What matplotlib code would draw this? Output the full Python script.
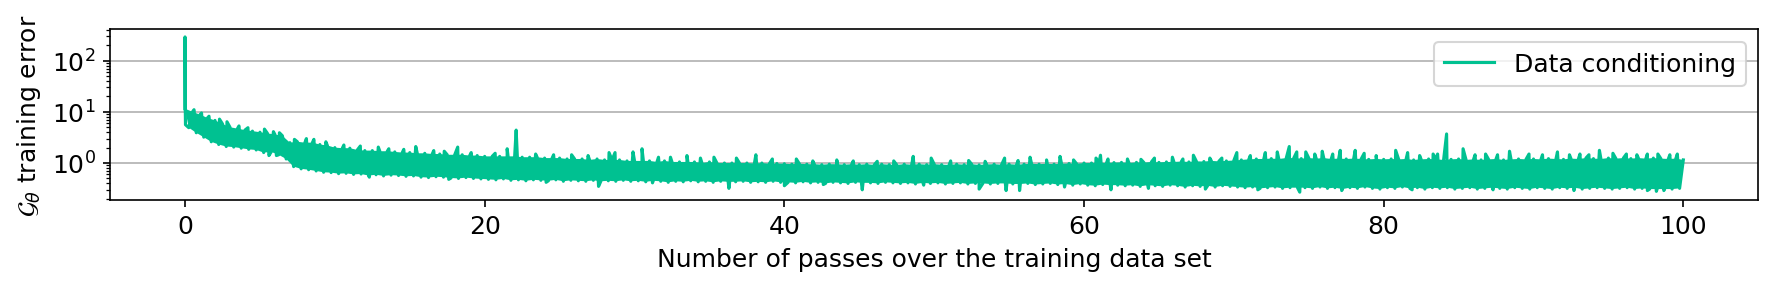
import numpy as np
import matplotlib.pyplot as plt

plt.rcParams['font.size'] = 12

line_color = '#00c191'

# first iterations: sharp drop from the initial error
start_epochs = [0.0, 0.004, 0.008, 0.015, 0.03]
start_error = [290, 110, 41, 13, 5.6]

# top of the solid band, one value every half pass (0, 0.5, ..., 100)
upper_error = [
    11.5, 10.0, 8.8, 7.6, 6.8, 5.8, 5.0, 4.7, 4.4, 4.2,
    4.0, 3.8, 3.6, 3.4, 2.5, 2.6, 2.5, 2.5, 2.3, 2.2,
    2.0, 1.95, 1.95, 1.8, 1.75, 1.75, 1.7, 1.7, 1.65, 1.6,
    1.6, 1.55, 1.55, 1.5, 1.5, 1.45, 1.45, 1.45, 1.4, 1.4,
    1.35, 1.35, 1.35, 1.35, 1.35, 1.3, 1.3, 1.3, 1.25, 1.25,
    1.25, 1.2, 1.2, 1.2, 1.15, 1.2, 1.15, 1.15, 1.15, 1.1,
    1.1, 1.1, 1.1, 1.05, 1.1, 1.05, 1.05, 1.05, 1.05, 1.0,
    1.05, 1.0, 1.0, 1.0, 1.0, 1.0, 0.98, 1.0, 0.97, 0.98,
    0.97, 0.95, 0.97, 0.95, 0.95, 0.93, 0.95, 0.95, 0.93, 0.95,
    0.93, 0.95, 0.92, 0.95, 0.93, 0.92, 0.95, 0.93, 0.95, 0.93,
    0.95, 0.93, 0.92, 0.95, 0.93, 0.95, 0.92, 0.94, 0.95, 0.93,
    0.95, 0.93, 0.95, 0.97, 0.95, 0.97, 0.95, 0.97, 0.98, 0.97,
    1.0, 1.0, 1.02, 1.0, 1.02, 1.03, 1.0, 1.03, 1.02, 1.05,
    1.03, 1.05, 1.05, 1.07, 1.05, 1.08, 1.07, 1.1, 1.08, 1.1,
    1.12, 1.15, 1.18, 1.2, 1.2, 1.22, 1.2, 1.25, 1.25, 1.22,
    1.25, 1.22, 1.25, 1.2, 1.22, 1.2, 1.22, 1.2, 1.18, 1.2,
    1.18, 1.2, 1.18, 1.2, 1.15, 1.18, 1.2, 1.18, 1.15, 1.18,
    1.2, 1.15, 1.18, 1.15, 1.18, 1.2, 1.15, 1.18, 1.2, 1.18,
    1.2, 1.18, 1.22, 1.2, 1.18, 1.22, 1.2, 1.25, 1.22, 1.2,
    1.25, 1.22, 1.25, 1.22, 1.25, 1.22, 1.25, 1.22, 1.2, 1.22,
    1.15,
]

# bottom of the solid band, in between (0.25, 0.75, ..., 99.75)
lower_error = [
    4.9, 3.9, 3.2, 2.6, 2.3, 2.1, 2.05, 1.95, 1.85, 1.8,
    1.6, 1.65, 1.45, 1.2, 0.85, 0.77, 0.74, 0.7, 0.66, 0.65,
    0.62, 0.63, 0.6, 0.61, 0.57, 0.59, 0.56, 0.58, 0.57, 0.55,
    0.56, 0.53, 0.52, 0.54, 0.53, 0.51, 0.5, 0.52, 0.5, 0.49,
    0.48, 0.47, 0.49, 0.46, 0.47, 0.45, 0.47, 0.46, 0.45, 0.47,
    0.44, 0.46, 0.45, 0.44, 0.46, 0.44, 0.45, 0.44, 0.46, 0.44,
    0.45, 0.43, 0.45, 0.44, 0.42, 0.44, 0.43, 0.45, 0.43, 0.44,
    0.42, 0.44, 0.43, 0.43, 0.44, 0.42, 0.43, 0.42, 0.44, 0.42,
    0.42, 0.41, 0.43, 0.41, 0.42, 0.4, 0.42, 0.41, 0.4, 0.42,
    0.41, 0.41, 0.4, 0.42, 0.41, 0.4, 0.41, 0.39, 0.41, 0.4,
    0.41, 0.39, 0.4, 0.41, 0.39, 0.4, 0.4, 0.39, 0.4, 0.4,
    0.39, 0.39, 0.4, 0.38, 0.39, 0.4, 0.38, 0.39, 0.37, 0.39,
    0.37, 0.36, 0.38, 0.37, 0.37, 0.36, 0.37, 0.35, 0.37, 0.36,
    0.35, 0.37, 0.36, 0.34, 0.36, 0.35, 0.36, 0.34, 0.36, 0.35,
    0.34, 0.33, 0.34, 0.32, 0.33, 0.34, 0.32, 0.33, 0.33, 0.33,
    0.32, 0.34, 0.32, 0.33, 0.31, 0.33, 0.32, 0.34, 0.32, 0.31,
    0.33, 0.32, 0.34, 0.32, 0.33, 0.31, 0.33, 0.32, 0.33, 0.31,
    0.32, 0.33, 0.31, 0.32, 0.33, 0.32, 0.31, 0.33, 0.32, 0.31,
    0.33, 0.32, 0.31, 0.33, 0.32, 0.33, 0.31, 0.32, 0.33, 0.32,
    0.31, 0.32, 0.33, 0.31, 0.32, 0.31, 0.31, 0.31, 0.31, 0.32,
]

# single-step peaks above the band
spike_epochs = [
    0.6, 1.1, 1.6, 2.3, 2.8, 3.6, 4.2, 5.3, 5.9, 6.3,
    7.3, 8.1, 8.6, 9.4, 10.6, 11.7, 12.9, 13.6, 14.6, 15.4,
    16.6, 17.3, 18.2, 19.1, 20.7, 21.5, 22.1, 23.4, 24.6, 25.8,
    26.9, 28.3, 28.7, 29.9, 30.5, 31.6, 32.4, 33.5, 34.4, 35.3,
    36.8, 38.1, 39.2, 40.8, 41.9, 43.5, 44.6, 46.2, 47.3, 48.6,
    49.8, 51.1, 52.3, 53.4, 54.7, 55.6, 56.4, 57.5, 58.4, 59.3,
    60.8, 61.1, 61.6, 62.9, 63.8, 64.7, 65.9, 66.6, 67.3, 68.4,
    69.2, 70.2, 71.1, 72.1, 72.9, 73.7, 74.2, 74.8, 75.4, 75.9,
    76.6, 77.1, 78.1, 78.7, 79.5, 80.8, 81.6, 82.4, 83.3, 83.6,
    84.2, 85.3, 86.1, 86.8, 87.6, 88.4, 89.7, 90.6, 91.6, 92.4,
    93.1, 93.7, 94.4, 95.3, 96.2, 96.9, 97.6, 98.3, 99.1, 99.6,
]
spike_error = [
    11.0, 9.5, 8.2, 7.2, 6.4, 5.3, 4.9, 4.6, 4.1, 3.9,
    2.9, 3.0, 2.9, 2.6, 2.25, 2.15, 2.05, 1.9, 1.85, 2.1,
    1.75, 1.7, 2.05, 1.6, 1.55, 1.9, 4.4, 1.5, 1.45, 1.45,
    1.4, 1.6, 1.6, 1.65, 1.9, 1.3, 1.3, 1.4, 1.25, 1.3,
    1.25, 1.45, 1.2, 1.2, 1.1, 1.15, 1.1, 1.08, 1.1, 1.35,
    1.25, 1.1, 1.12, 1.08, 1.25, 1.12, 1.3, 1.15, 1.35, 1.15,
    1.25, 1.42, 1.2, 1.2, 1.18, 1.25, 1.3, 1.2, 1.42, 1.25,
    1.25, 1.6, 1.4, 1.6, 1.65, 2.1, 1.65, 1.65, 1.5, 1.7,
    1.5, 1.77, 1.77, 1.55, 1.4, 1.77, 1.6, 1.4, 1.5, 1.5,
    3.7, 1.9, 1.45, 1.5, 1.45, 1.7, 1.5, 1.45, 1.65, 1.45,
    1.5, 1.45, 1.77, 1.55, 1.5, 1.45, 1.5, 1.5, 1.45, 1.5,
]

# single-step drops below the band
dip_epochs = [
    5.6, 6.1, 12.3, 17.6, 24.1, 27.6, 31.2, 36.3, 40.0, 42.6,
    45.2, 49.3, 53.0, 54.8, 55.7, 58.7, 61.8, 64.3, 68.1, 71.6,
    74.4, 77.2, 81.9, 87.3, 92.7, 97.6, 98.2, 98.7,
]
dip_error = [
    1.4, 1.4, 0.53, 0.48, 0.42, 0.35, 0.41, 0.32, 0.36, 0.38,
    0.3, 0.37, 0.31, 0.29, 0.29, 0.34, 0.3, 0.32, 0.31, 0.3,
    0.27, 0.29, 0.3, 0.3, 0.29, 0.29, 0.28, 0.29,
]

upper_epochs = np.arange(len(upper_error)) * 0.5
lower_epochs = np.arange(len(lower_error)) * 0.5 + 0.25

# zig-zag through band top and bottom
n = len(upper_error) + len(lower_error)
band_epochs = np.empty(n)
band_error = np.empty(n)
band_epochs[0::2] = upper_epochs
band_epochs[1::2] = lower_epochs
band_error[0::2] = upper_error
band_error[1::2] = lower_error

epochs = np.concatenate([band_epochs, start_epochs, spike_epochs, dip_epochs])
error = np.concatenate([band_error, start_error, spike_error, dip_error])
order = np.argsort(epochs, kind='stable')
epochs = epochs[order]
error = error[order]

fig, ax = plt.subplots(figsize=(11.84, 1.913), dpi=150)
fig.subplots_adjust(left=0.062, right=0.99, bottom=0.30, top=0.895)

# solid body of the noisy band
ax.fill(np.concatenate([upper_epochs, lower_epochs[::-1]]),
        np.concatenate([upper_error, lower_error[::-1]]),
        color=line_color, lw=0, zorder=2)
ax.plot(epochs, error, color=line_color, lw=1.5, label='Data conditioning', zorder=3)

ax.set_yscale('log')
ax.grid(axis='y')
ax.set_xlabel('Number of passes over the training data set')
ax.set_ylabel(r'$\mathcal{G}_\theta$ training error')
ax.legend(loc='upper right')

plt.savefig('out.png')
